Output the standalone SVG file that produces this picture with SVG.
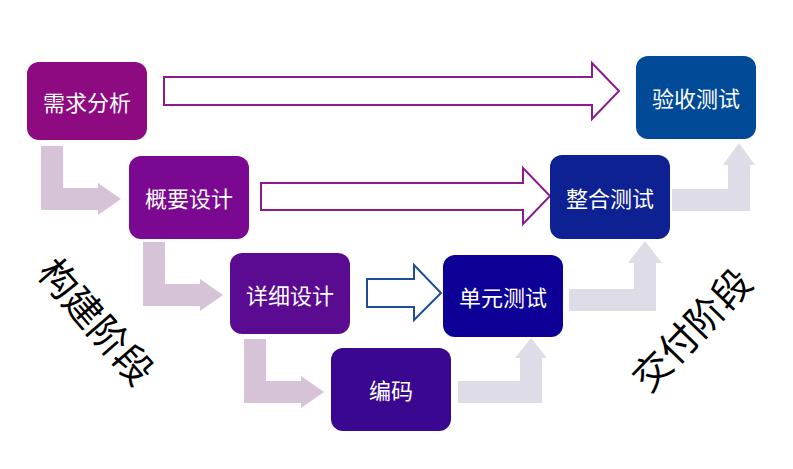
<svg xmlns="http://www.w3.org/2000/svg" width="793" height="469" viewBox="0 0 793 469">
<defs>
<style>
.node rect{stroke:none}
.node text{fill:#ffffff;font-family:"Noto Sans CJK SC","Noto Sans",sans-serif;font-size:22px;text-anchor:middle;dominant-baseline:central}
.elbowL{fill:#D7C3D8}
.elbowR{fill:#DDDCE7}
.outP{fill:#ffffff;stroke:#8E1A8E;stroke-width:2}
.outB{fill:#ffffff;stroke:#1F4E96;stroke-width:2}
.phase{fill:#000000;font-family:"Noto Sans CJK SC","Noto Sans",sans-serif;font-size:38px;text-anchor:middle;dominant-baseline:central}
</style>
<path id="lArrow" d="M0,0 H22 V42 H57 V37 L80,53 L57,69 V64 H0 Z"/>
</defs>
<rect width="793" height="469" fill="#ffffff"/>
<g id="connectors">
<use href="#lArrow" class="elbowL" transform="translate(41,146)"/>
<use href="#lArrow" class="elbowL" transform="translate(143,242)"/>
<use href="#lArrow" class="elbowL" transform="translate(244,339)"/>
<path class="elbowR" d="M458,381 H520 V358 H515 L531,338 L547,358 H542 V403 H458 Z"/>
<path class="elbowR" d="M569,289 H634 V263 H628 L645,241 L662,263 H656 V311 H569 Z"/>
<path class="elbowR" d="M672,189 H728 V165 H723 L739,143 L755,165 H750 V211 H672 Z"/>
<path class="outP" d="M164,77 H592 V63 L619,91 L592,119 V105 H164 Z"/>
<path class="outP" d="M261,183 H523 V168 L550,196 L523,224 V210 H261 Z"/>
<path class="outB" d="M367,279 H414 V265 L441,293 L414,320 V307 H367 Z"/>
</g>
<g id="n1" class="node"><rect x="27" y="62" width="120" height="78" rx="12" fill="#8E0A80"/><text x="87" y="101">需求分析</text></g>
<g id="n2" class="node"><rect x="129" y="156" width="120" height="83" rx="12" fill="#7B0890"/><text x="189" y="197">概要设计</text></g>
<g id="n3" class="node"><rect x="230" y="253" width="120" height="81" rx="12" fill="#5B0A92"/><text x="290" y="294">详细设计</text></g>
<g id="n4" class="node"><rect x="331" y="348" width="120" height="83" rx="12" fill="#3A0890"/><text x="391" y="389">编码</text></g>
<g id="n5" class="node"><rect x="443" y="255" width="120" height="82" rx="12" fill="#0C0096"/><text x="503" y="296">单元测试</text></g>
<g id="n6" class="node"><rect x="550" y="155" width="120" height="84" rx="12" fill="#0D2192"/><text x="610" y="197">整合测试</text></g>
<g id="n7" class="node"><rect x="636" y="56" width="120" height="83" rx="12" fill="#004A98"/><text x="696" y="97">验收测试</text></g>
<text class="phase" transform="translate(98,320) rotate(49)">构建阶段</text>
<text class="phase" transform="translate(690,328) rotate(-46)">交付阶段</text>
</svg>
